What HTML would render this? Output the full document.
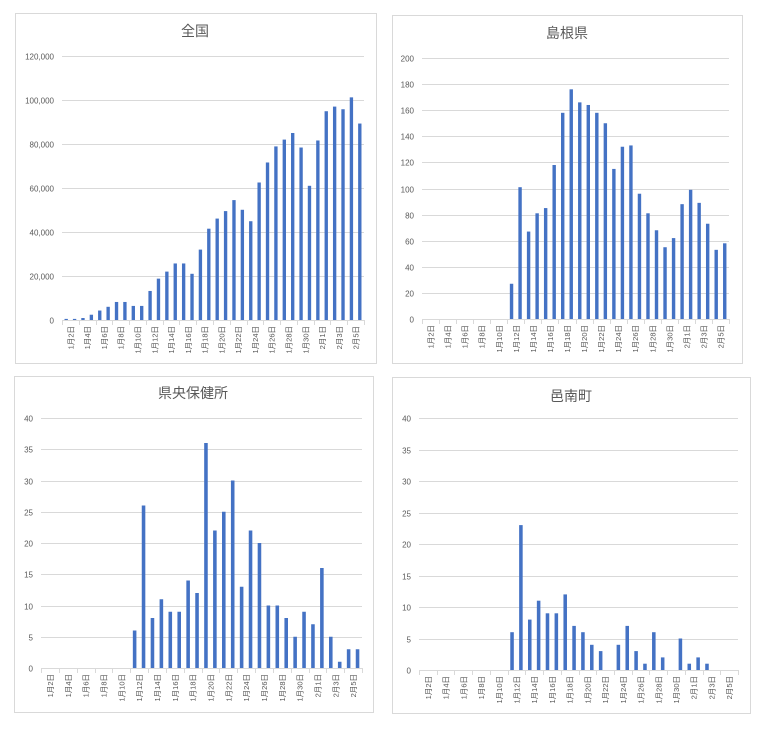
<!DOCTYPE html>
<html><head><meta charset="utf-8">
<style>
html,body{margin:0;padding:0;background:#fff;}
svg{display:block;font-family:"Liberation Sans","Noto Sans CJK JP",sans-serif;}
</style></head>
<body>
<svg id="root" width="765" height="734" viewBox="0 0 765 734"></svg>
<script>
const categories = ["1月2日","1月3日","1月4日","1月5日","1月6日","1月7日","1月8日","1月9日","1月10日","1月11日","1月12日","1月13日","1月14日","1月15日","1月16日","1月17日","1月18日","1月19日","1月20日","1月21日","1月22日","1月23日","1月24日","1月25日","1月26日","1月27日","1月28日","1月29日","1月30日","1月31日","2月1日","2月2日","2月3日","2月4日","2月5日","2月6日"];
const nationalValues = [500,500,900,2400,4300,6000,8200,8200,6400,6400,13200,18800,22000,25700,25700,21000,32000,41500,46100,49500,54500,50100,44900,62500,71600,78900,82000,85000,78400,61000,81600,94900,97000,95800,101200,89300];
const shimaneValues = [0,0,0,0,0,0,0,0,0,0,27,101,67,81,85,118,158,176,166,164,158,150,115,132,133,96,81,68,55,62,88,99,89,73,53,58];
const kenouValues = [0,0,0,0,0,0,0,0,0,0,6,26,8,11,9,9,14,12,36,22,25,30,13,22,20,10,10,8,5,9,7,16,5,1,3,3];
const onanValues = [0,0,0,0,0,0,0,0,0,0,6,23,8,11,9,9,12,7,6,4,3,0,4,7,3,1,6,2,0,5,1,2,1,0,0,0];
const nationalTicks = [0,20000,40000,60000,80000,100000,120000];
const shimaneTicks = [0,20,40,60,80,100,120,140,160,180,200];
const smallTicks = [0,5,10,15,20,25,30,35,40];

const NS="http://www.w3.org/2000/svg";
const root=document.getElementById('root');
function mk(tag,attrs,parent){const e=document.createElementNS(NS,tag);for(const k in attrs)e.setAttribute(k,attrs[k]);(parent||root).appendChild(e);return e;}

function drawChart(key,title,values,ticks,box,plot,titlePos){
  const g=mk('g',{});
  
  
  const frame=mk('rect',{x:box[0]+0.5,y:box[1]+0.5,width:box[2]-box[0],height:box[3]-box[1],fill:'#fff',stroke:'#d9d9d9','stroke-width':1},g);
  
  
  const t=mk('text',{x:titlePos[0],y:titlePos[1],'text-anchor':'middle','font-size':14,fill:'#595959'},g);
  t.textContent=title;
  
  
  const x0=plot[0],x1=plot[1],y0=plot[2],yTop=plot[3];
  const maxV=ticks[ticks.length-1];
  const yScale=v=>y0-(v/maxV)*(y0-yTop);
  const bw=(x1-x0)/categories.length;
  const xScale=i=>x0+i*bw;
  ticks.forEach(v=>{
    const y=Math.round(yScale(v))+0.5;
    if(v>0){
      const l=mk('line',{x1:x0,x2:x1,y1:y,y2:y,stroke:'#d9d9d9','stroke-width':1},g);
      
      
    }
    const tx=mk('text',{x:x0-8,y:y+3,'text-anchor':'end','font-size':8,fill:'#595959'},g);
    tx.textContent=v.toLocaleString('en-US');
    
    
  });
  values.forEach((v,i)=>{
    const w=bw*0.4;
    const y=yScale(v);
    const r=mk('rect',{x:xScale(i)+(bw-w)/2,y:y,width:w,height:Math.max(0,y0-y),fill:'#4472c4'},g);
    
    
  });
  const ax=mk('line',{x1:x0,x2:x1,y1:y0+0.5,y2:y0+0.5,stroke:'#d9d9d9','stroke-width':1},g);
  
  
  for(let i=0;i<=categories.length;i+=2){
    const x=Math.round(xScale(i))+0.5;
    const tk=mk('line',{x1:x,x2:x,y1:y0,y2:y0+5,stroke:'#d9d9d9','stroke-width':1},g);
    
    
  }
  for(let i=0;i<categories.length;i+=2){
    const cx=xScale(i)+bw;
    const ty=y0+6;
    const lb=mk('text',{x:0,y:0,'text-anchor':'end','font-size':7.5,fill:'#595959',transform:`translate(${cx+3},${ty}) rotate(-90)`},g);
    lb.textContent=categories[i];
    
    
  }
}
drawChart('national','全国',nationalValues,nationalTicks,[15,13,376,363],[62,364,320,56],[195,36]);
drawChart('shimane','島根県',shimaneValues,shimaneTicks,[392,15,742,363],[422,729,319,58],[567,38]);
drawChart('kenou','県央保健所',kenouValues,smallTicks,[14,376,373,712],[41,362,668,418],[193,398]);
drawChart('onan','邑南町',onanValues,smallTicks,[392,377,750,713],[419,738,670,418],[571,401]);
</script>
</body></html>
